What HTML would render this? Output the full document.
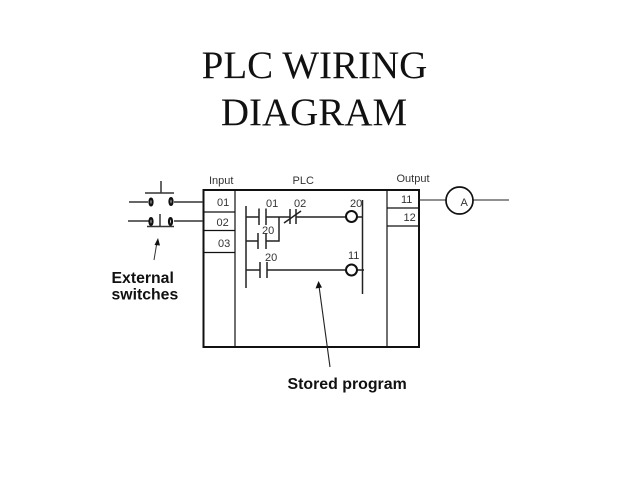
<!DOCTYPE html>
<html><head><meta charset="utf-8"><style>
html,body{margin:0;padding:0;background:#fff}
svg{display:block}
.t{font-family:"Liberation Serif",serif;font-size:39px;fill:#111;text-anchor:middle}
.b{font-family:"Liberation Sans",sans-serif;font-weight:bold;fill:#111}
.s{font-family:"Liberation Sans",sans-serif;font-size:11px;fill:#333}
</style></head><body>
<svg width="638" height="478" viewBox="0 0 638 478" xmlns="http://www.w3.org/2000/svg">
<rect width="638" height="478" fill="#fff"/>
<text class="t" x="314.500" y="78">PLC WIRING</text>
<text class="t" x="314" y="125">DIAGRAM</text>

<g fill="none" stroke="#111">
<rect x="203.500" y="190" width="215.500" height="157" stroke-width="2"/>
<path d="M235 190V347M387 190V347" stroke-width="1.200"/>
<path d="M203 212H235M203 230.500H235M203 252.500H235M387 208H419M387 226H419" stroke-width="1.200"/>

<g stroke="#333" stroke-width="1.500">
<path d="M129 202H148M174 202H203M128 221H149M174 221H203"/>
<path d="M145 193H174M161 181V193M147 226.500H174M160 214V226.500"/>
<path d="M154 260L157 242" stroke-width="1"/>
</g>
<g stroke-width="2.200" stroke="#111">
<ellipse cx="151" cy="202" rx="1.500" ry="3.400"/>
<ellipse cx="171" cy="201.500" rx="1.500" ry="3.400"/>
<ellipse cx="151" cy="221.500" rx="1.500" ry="3.400"/>
<ellipse cx="170.500" cy="221.500" rx="1.500" ry="3.400"/>
</g>

<g stroke="#222" stroke-width="1.500">
<path d="M246 206V288M362.500 200V294"/>
<path d="M246 217H259M259 208.500V225M266 208.500V225M266 217H290M290 209V224M296 209V224M296 217H346M357 217H363"/>
<path d="M284 223L301 211"/>
<path d="M246 241H258M258 233V249M266 233V249M266 241H279V217"/>
<path d="M246 270H260M260 262V278M267 262V278M267 270H346M357 270H364"/>
</g>
<circle cx="351.500" cy="216.500" r="5.500" stroke-width="2"/>
<circle cx="351.500" cy="270" r="5.500" stroke-width="2"/>

<path d="M419 200H446M473 200H509" stroke="#222" stroke-width="1.100"/>
<circle cx="459.500" cy="200.500" r="13.500" stroke-width="1.700"/>
<path d="M330 367L319 286" stroke="#222" stroke-width="1.100"/>
</g>
<path d="M158 238L154.500 245L160 245.500Z" fill="#111"/>
<path d="M318.500 281L315.500 288.500L322 287.500Z" fill="#111"/>

<text class="s" x="209" y="184">Input</text>
<text class="s" x="292.500" y="184">PLC</text>
<text class="s" x="396.500" y="182">Output</text>
<text class="s" x="217" y="206">01</text>
<text class="s" x="216.500" y="226">02</text>
<text class="s" x="218" y="247">03</text>
<text class="s" x="401" y="203" font-size="10">11</text>
<text class="s" x="403.500" y="221">12</text>
<text class="s" x="460.500" y="206">A</text>
<text class="s" x="266" y="207">01</text>
<text class="s" x="294" y="207">02</text>
<text class="s" x="350" y="207">20</text>
<text class="s" x="262" y="234">20</text>
<text class="s" x="265" y="261">20</text>
<text class="s" x="348" y="259">11</text>

<text class="b" x="111.500" y="283" font-size="15.800">External</text>
<text class="b" x="111.500" y="299.500" font-size="15.800">switches</text>
<text class="b" x="287.500" y="389" font-size="15.900">Stored program</text>
</svg>
</body></html>
